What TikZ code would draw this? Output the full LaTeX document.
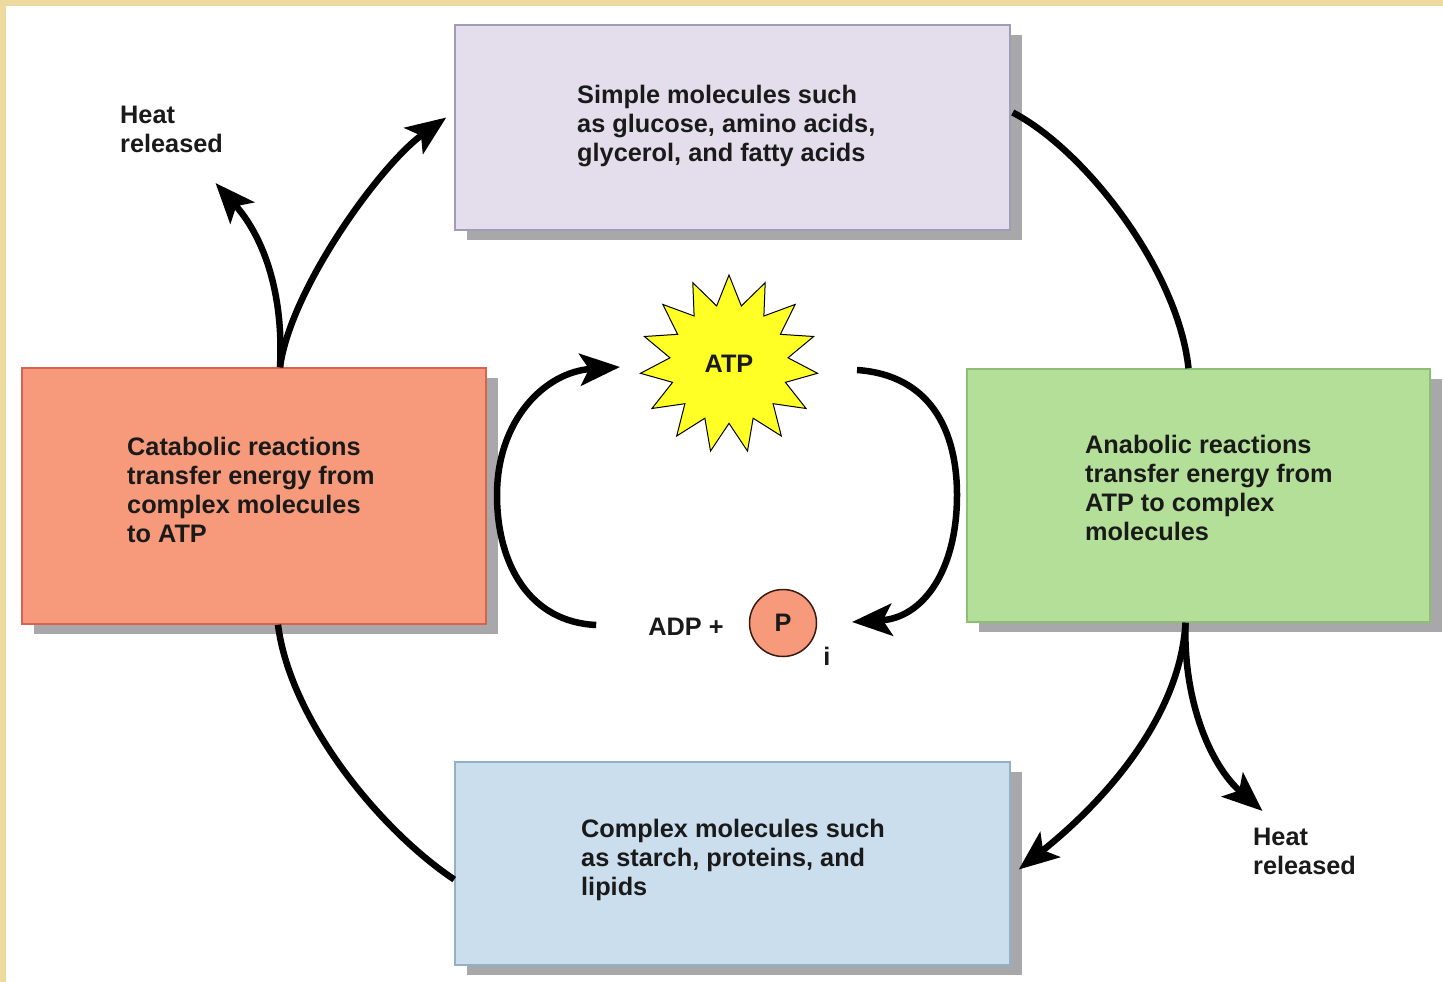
\documentclass[tikz,border=0pt]{standalone}
\usepackage{fontspec}
\setmainfont{Liberation Sans}
\usetikzlibrary{shapes.geometric,arrows.meta,shadows}
\definecolor{bordery}{HTML}{EEDA9E}
\definecolor{lav}{HTML}{E4DEEC}
\definecolor{lavb}{HTML}{A09CB8}
\definecolor{salmon}{HTML}{F69A7B}
\definecolor{salmonb}{HTML}{D4644E}
\definecolor{grn}{HTML}{B3DF98}
\definecolor{grnb}{HTML}{8CBF74}
\definecolor{blu}{HTML}{CBDEED}
\definecolor{blub}{HTML}{94AFC8}
\definecolor{shadowc}{HTML}{A8A8AA}
\definecolor{staryel}{HTML}{FFFF26}
\definecolor{txt}{HTML}{1A1A1A}
\definecolor{pcb}{HTML}{3A1A10}
\begin{document}
\begin{tikzpicture}[x=1pt,y=-1pt,
  lbl/.style={font=\fontsize{25.3}{29}\selectfont\bfseries, text=txt, align=left, inner sep=0pt},
  box/.style={rectangle, draw, line width=1.5pt,
    drop shadow={shadow xshift=12pt, shadow yshift=-10pt, fill=shadowc, opacity=1}},
  boxtext/.style={lbl, anchor=north west},
  flow/.style={line width=6.5pt, draw=black},
  tip/.style={-{Stealth[length=40pt,width=32pt,inset=9pt]}}
]
\useasboundingbox (0,0) rectangle (1443,982);
\fill[white] (0,0) rectangle (1443,982);
\fill[bordery] (0,0) rectangle (1443,6);
\fill[bordery] (0,0) rectangle (6,982);

\node[box, fill=lav, draw=lavb, minimum width=555pt, minimum height=205pt] (simple) at (732.5,127.5) {};
\node[box, fill=salmon, draw=salmonb, minimum width=464pt, minimum height=256pt] (cat) at (254,496) {};
\node[box, fill=grn, draw=grnb, minimum width=463pt, minimum height=253pt] (ana) at (1198.5,495.5) {};
\node[box, fill=blu, draw=blub, minimum width=555pt, minimum height=203pt] (comp) at (732.5,863.5) {};

\node[boxtext] (simpleT) at (577,85) {Simple molecules such\\as glucose, amino acids,\\glycerol, and fatty acids};
\node[boxtext] (catT) at (127,437) {Catabolic reactions\\transfer energy from\\complex molecules\\to ATP};
\node[boxtext] (anaT) at (1085,435) {Anabolic reactions\\transfer energy from\\ATP to complex\\molecules};
\node[boxtext] (compT) at (581,819) {Complex molecules such\\as starch, proteins, and\\lipids};

\node[boxtext] (heat1) at (120,106) {Heat\\released};
\node[boxtext] (heat2) at (1253,828) {Heat\\released};

\node[star, star points=15, star point ratio=1.5, minimum size=178pt, fill=staryel, draw=black,
  line width=1pt, lbl] (atp) at (729,364) {ATP};
\node[lbl] (adp) at (686,627) {ADP +};
\node[circle, draw=pcb, fill=salmon, line width=1.5pt, minimum size=67pt, lbl] (pc) at (783,623) {P};
\node[lbl] (sub) at (827,656) {i};

\draw[flow, tip] ([shift={(26,0)}]cat.north) .. controls (290,290) and (380,165) .. ([shift={(-8,-10)}]simple.west);
\draw[flow, tip] ([shift={(26,0)}]cat.north) .. controls (284,290) and (262,235) .. ([shift={(44,30)}]heat1.south);
\draw[flow] ([shift={(2,-15)}]simple.east) .. controls (1085,150) and (1178,270) .. ([shift={(-10,0)}]ana.north);
\draw[flow, tip] ([shift={(-13,0)}]ana.south) .. controls (1180,720) and (1100,805) .. ([shift={(8,6)}]comp.east);
\draw[flow, tip] ([shift={(-13,0)}]ana.south) .. controls (1183,700) and (1210,765) .. ([shift={(-42,-17)}]heat2.north);
\draw[flow] ([shift={(0,16)}]comp.west) .. controls (380,830) and (290,720) .. ([shift={(24,0)}]cat.south);

\draw[flow, tip] ([shift={(-52,-2)}]adp.west) .. controls (530,622) and (497,565) .. (497,495)
  .. controls (497,420) and (545,372) .. ([shift={(-109,3)}]atp.center);
\draw[flow, tip] ([shift={(128,6)}]atp.center) .. controls (930,375) and (957,430) .. (957,495)
  .. controls (957,572) and (922,618) .. ([shift={(69,-1)}]pc.center);
\end{tikzpicture}
\end{document}
